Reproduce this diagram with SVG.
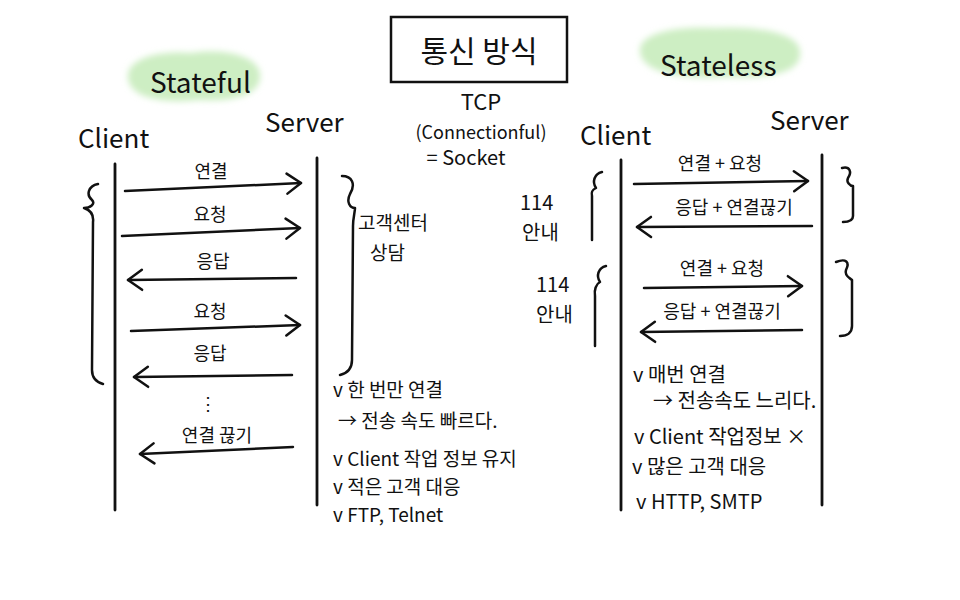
<svg xmlns="http://www.w3.org/2000/svg" width="960" height="600" viewBox="0 0 960 600">
<style>
text{font-family:"Noto Sans CJK KR","Noto Sans",sans-serif;fill:#111;}
.hd{font-size:26px;}
.lb{font-size:18px;text-anchor:middle;}
.nt{font-size:19px;}
.nr{font-size:20px;}
.ln{stroke:#111;stroke-width:2.8;fill:none;stroke-linecap:round;}
.ar{stroke:#111;stroke-width:2.5;fill:none;stroke-linecap:round;marker-end:url(#ah);}
.br{stroke:#111;stroke-width:2.5;fill:none;stroke-linecap:round;stroke-linejoin:round;}
.hl{fill:#cdeec3;}
</style>
<defs>
<marker id="ah" viewBox="0 0 18 24" refX="16" refY="12" markerWidth="18" markerHeight="24" markerUnits="userSpaceOnUse" orient="auto">
<path d="M2,2 L16,12 L2,22" fill="none" stroke="#111" stroke-width="2.5" stroke-linecap="round" stroke-linejoin="round"/>
</marker>
<filter id="soft" x="-20%" y="-40%" width="140%" height="180%"><feGaussianBlur stdDeviation="3"/></filter>
</defs>
<rect width="960" height="600" fill="#fff"/>

<g id="title">
<rect x="391" y="17" width="176" height="65" fill="none" stroke="#111" stroke-width="2.5"/>
<text x="479" y="62" font-size="30" text-anchor="middle">통신 방식</text>
</g>
<g id="tcp">
<text x="481" y="110" font-size="22" text-anchor="middle">TCP</text>
<text x="481" y="139" font-size="18" text-anchor="middle">(Connectionful)</text>
<text x="466" y="165" font-size="20" text-anchor="middle">= Socket</text>
</g>

<g id="stateful-label">
<path class="hl" filter="url(#soft)" d="M128,78 C126,58 160,50 192,53 C224,48 258,56 260,74 C262,94 236,102 200,100 C163,104 130,98 128,78 Z"/>
<text x="150" y="93" font-size="28">Stateful</text>
</g>
<g id="stateless-label">
<path class="hl" filter="url(#soft)" d="M640,52 C638,33 675,26 716,28 C762,26 800,34 800,52 C802,72 772,79 726,77 C680,80 642,72 640,52 Z"/>
<text x="660" y="76" font-size="28">Stateless</text>
</g>

<g id="sf-client"><text x="78" y="148" class="hd">Client</text><path class="ln" d="M115,164 L115,510"/></g>
<g id="sf-server"><text x="265" y="132" class="hd">Server</text><path class="ln" d="M317,158 L317,505"/></g>
<g id="sl-client"><text x="580" y="145" class="hd">Client</text><path class="ln" d="M621,160 L621,510"/></g>
<g id="sl-server"><text x="770" y="130" class="hd">Server</text><path class="ln" d="M822,155 L822,505"/></g>

<g id="connectors">
<path class="ar" d="M125,191 L301,183"/>
<path class="ar" d="M122,236 L300,228"/>
<path class="ar" d="M296,278 L128,280"/>
<path class="ar" d="M131,331 L300,325"/>
<path class="ar" d="M292,375 L134,377"/>
<path class="ar" d="M293,447 L140,454"/>
<path class="ar" d="M634,184 L808,181"/>
<path class="ar" d="M812,226 L637,227"/>
<path class="ar" d="M644,288 L802,286"/>
<path class="ar" d="M802,330 L641,332"/>
</g>

<g id="sf-labels">
<text x="211" y="178" class="lb">연결</text>
<text x="210" y="221" class="lb">요청</text>
<text x="213" y="268" class="lb">응답</text>
<text x="210" y="318" class="lb">요청</text>
<text x="210" y="360" class="lb">응답</text>
<text x="208" y="410" class="lb" font-size="14">⋮</text>
<text x="217" y="442" class="lb" font-size="19">연결 끊기</text>
</g>
<g id="sl-labels">
<text x="720" y="170" class="lb">연결 + 요청</text>
<text x="734" y="214" class="lb">응답 + 연결끊기</text>
<text x="722" y="275" class="lb">연결 + 요청</text>
<text x="722" y="318" class="lb">응답 + 연결끊기</text>
</g>

<g id="sf-brace-left">
<path class="br" d="M98,184 C88,186 86,195 92,200 C96,204 90,208 84,208 C90,210 94,214 93,222 L92,370 C92,378 96,382 103,384"/>
</g>
<g id="sf-brace-right">
<path class="br" d="M342,176 C352,176 356,184 350,194 C346,202 350,208 355,208 C355,212 353,218 353,226 L352,360 C352,368 348,373 340,375"/>
<text x="358" y="230" font-size="19">고객센터</text>
<text x="370" y="260" font-size="19">상담</text>
</g>

<g id="sl-brace-left">
<path class="br" d="M602,172 C594,174 592,182 596,188 C592,190 591,192 592,196 L592,240"/>
<text x="520" y="210" font-size="20">114</text>
<text x="522" y="240" font-size="20">안내</text>
<path class="br" d="M606,266 C598,268 596,276 600,282 C596,284 594,290 595,296 L595,346"/>
<text x="536" y="292" font-size="20">114</text>
<text x="536" y="322" font-size="20">안내</text>
</g>
<g id="sl-brace-right">
<path class="br" d="M842,168 C850,166 852,172 848,178 C846,182 850,186 853,186 L853,216 C853,220 849,222 843,222"/>
<path class="br" d="M836,262 C846,258 850,262 846,270 C844,276 850,278 852,280 L852,326 C852,332 848,336 840,336"/>
</g>

<g id="sf-notes">
<text x="333" y="397" class="nt">v 한 번만 연결</text>
<text x="338" y="428" class="nt" font-size="18">→ 전송 속도 빠르다.</text>
<text x="333" y="466" class="nt">v Client 작업 정보 유지</text>
<text x="333" y="494" class="nt">v 적은 고객 대응</text>
<text x="333" y="522" class="nt">v FTP, Telnet</text>
</g>
<g id="sl-notes">
<text x="633" y="382" class="nr">v 매번 연결</text>
<text x="653" y="408" class="nr" font-size="19">→ 전송속도 느리다.</text>
<text x="634" y="444" class="nr">v Client 작업정보 ×</text>
<text x="632" y="474" class="nr">v 많은 고객 대응</text>
<text x="636" y="509" class="nr" font-size="23">v HTTP, SMTP</text>
</g>
</svg>
